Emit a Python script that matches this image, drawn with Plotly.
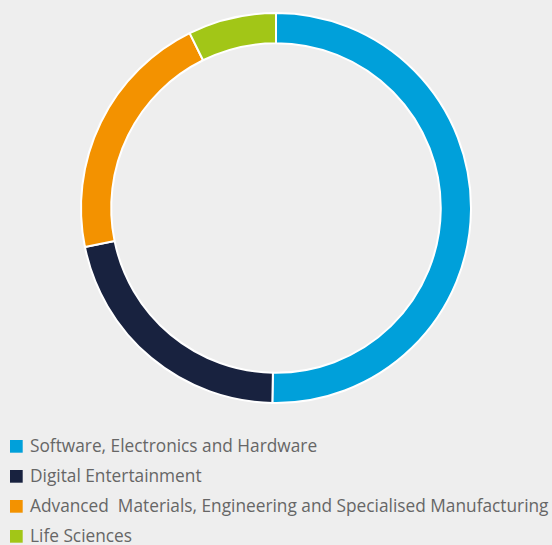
import plotly.graph_objects as go

categories = [
    "Software, Electronics and Hardware",
    "Digital Entertainment",
    "Advanced\u00a0 Materials, Engineering and Specialised Manufacturing",
    "Life Sciences",
]
values = [50.3, 21.5, 20.9, 7.3]
colors = ["#00a0da", "#18223f", "#f39200", "#a2c617"]

W, H = 552, 545
cx, cy, R = 276, 208, 195

fig = go.Figure(go.Pie(
    labels=categories,
    values=values,
    hole=0.845,
    sort=False,
    direction="clockwise",
    rotation=0,
    textinfo="none",
    hoverinfo="label+percent",
    showlegend=False,
    marker=dict(colors=colors, line=dict(color="#ffffff", width=2)),
    domain=dict(x=[(cx - R) / W, (cx + R) / W], y=[1 - (cy + R) / H, 1 - (cy - R) / H]),
))

# custom legend (squares + labels) below the ring
leg_top, leg_step, sq = 440.0, 30.0, 12.7
sq_x0, text_x = 10.0, 29.0
for i, (lab, col) in enumerate(zip(categories, colors)):
    y0 = leg_top + i * leg_step
    fig.add_shape(type="rect", xref="paper", yref="paper",
                  x0=sq_x0 / W, x1=(sq_x0 + sq) / W,
                  y0=1 - y0 / H, y1=1 - (y0 + sq) / H,
                  fillcolor=col, line=dict(width=0))
    fig.add_annotation(xref="paper", yref="paper", x=text_x / W, y=1 - (y0 + sq / 2 - 1) / H,
                       xanchor="left", yanchor="middle", showarrow=False, borderpad=0,
                       text=lab, font=dict(family="Open Sans", size=17.3, color="#666666"))

fig.update_layout(
    width=W, height=H,
    margin=dict(l=0, r=0, t=0, b=0),
    paper_bgcolor="#eeeeee",
    plot_bgcolor="#eeeeee",
    font=dict(family="Open Sans", size=15, color="#666666"),
)

fig.write_html("out.html")
